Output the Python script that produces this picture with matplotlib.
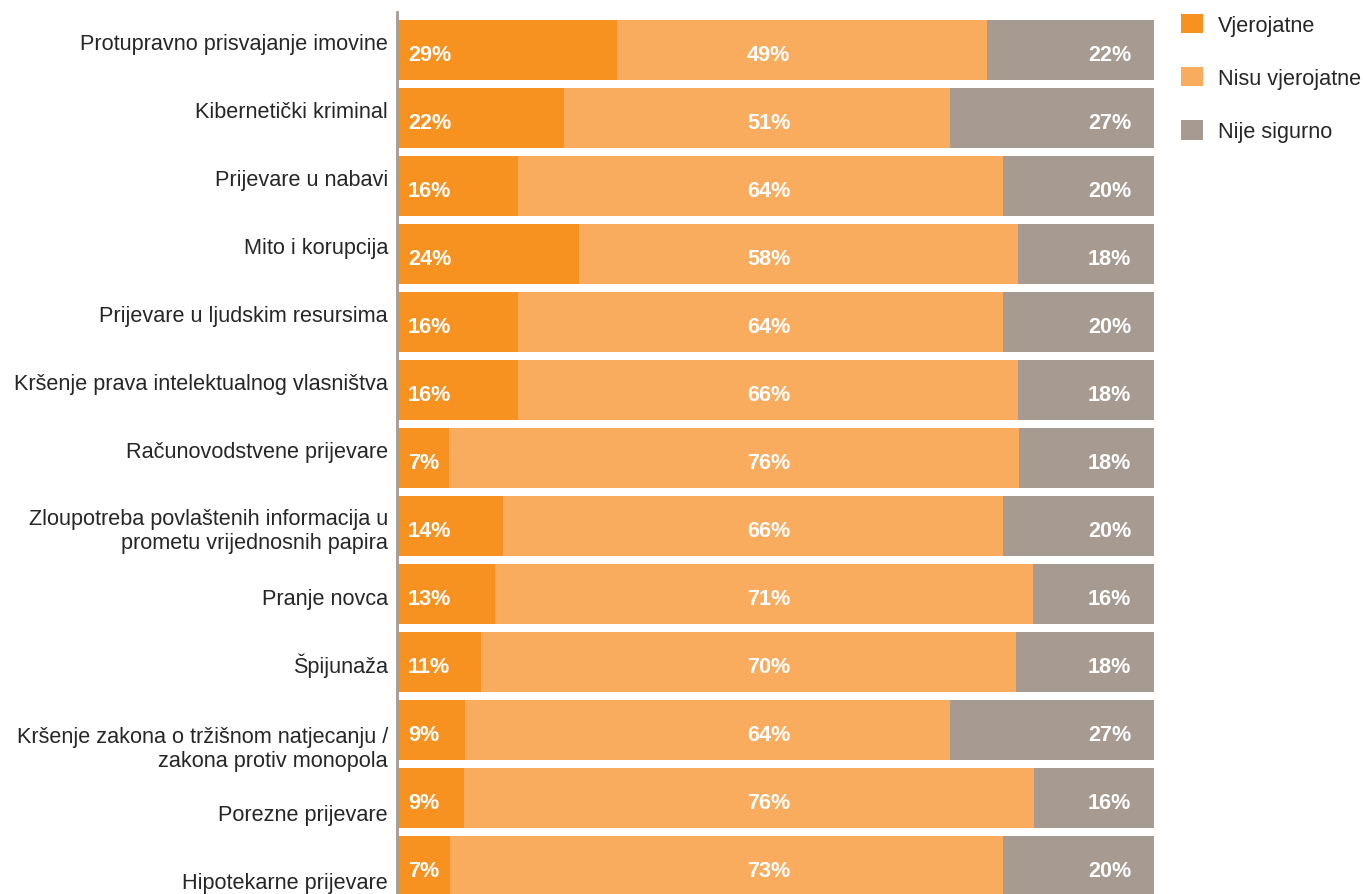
import numpy as np
import matplotlib
matplotlib.use("Agg")
from matplotlib import pyplot as plt

kategorije = [
    "Protupravno prisvajanje imovine",
    "Kibernetički kriminal",
    "Prijevare u nabavi",
    "Mito i korupcija",
    "Prijevare u ljudskim resursima",
    "Kršenje prava intelektualnog vlasništva",
    "Računovodstvene prijevare",
    "Zloupotreba povlaštenih informacija u\nprometu vrijednosnih papira",
    "Pranje novca",
    "Špijunaža",
    "Kršenje zakona o tržišnom natjecanju /\nzakona protiv monopola",
    "Porezne prijevare",
    "Hipotekarne prijevare",
]
vjerojatne = [29, 22, 16, 24, 16, 16, 7, 14, 13, 11, 9, 9, 7]
nisu_vjerojatne = [49, 51, 64, 58, 64, 66, 76, 66, 71, 70, 64, 76, 73]
nije_sigurno = [22, 27, 20, 18, 20, 18, 18, 20, 16, 18, 27, 16, 20]
serije = ["Vjerojatne", "Nisu vjerojatne", "Nije sigurno"]
boje = ["#F7911F", "#F9AC5E", "#A79A91"]

# pomak osnovne linije natpisa kategorija (u visinama retka), kao u originalu
pomak = [0, 0, 0, 0, 0, 0, 0, 0.34, 0.16, 0.16, 0.54, 0.33, 0.33]

plt.rcParams["font.family"] = ["Liberation Sans", "DejaVu Sans"]
fs = 15.6

v = np.array([vjerojatne, nisu_vjerojatne, nije_sigurno], dtype=float)
udio = v / v.sum(axis=0) * 100   # sirine segmenata, svaki red do 100%
y = np.arange(len(kategorije))

fig = plt.figure(figsize=(13.63, 8.95), dpi=100)
ax = fig.add_axes([397 / 1363, 0, 757 / 1363, 882 / 895])

lijevo = np.zeros(len(kategorije))
for i in range(3):
    ax.barh(y, udio[i], left=lijevo, height=0.88, color=boje[i], label=serije[i])
    lijevo += udio[i]

for k in range(len(kategorije)):
    yb = y[k] + 0.145
    ax.text(1.45, yb, f"{vjerojatne[k]}%", ha="left", va="baseline",
            color="white", fontsize=fs, fontweight="bold")
    ax.text(49.1, yb, f"{nisu_vjerojatne[k]}%", ha="center", va="baseline",
            color="white", fontsize=fs, fontweight="bold")
    ax.text(97.0, yb, f"{nije_sigurno[k]}%", ha="right", va="baseline",
            color="white", fontsize=fs, fontweight="bold")
    # natpis kategorije lijevo od osi
    ax.text(-9 / 757, y[k] - 0.015 + pomak[k], kategorije[k],
            transform=ax.get_yaxis_transform(), ha="right", va="baseline",
            multialignment="right", fontsize=fs, color="#262626")

ax.set_xlim(0, 100)
ax.set_ylim(12.41, -0.56)
ax.set_yticks([])
ax.set_xticks([])
for s in ["top", "right", "bottom"]:
    ax.spines[s].set_visible(False)
ax.spines["left"].set_color("#A59D96")
ax.spines["left"].set_linewidth(2)

fig.legend(loc="upper left", bbox_to_anchor=(1181 / 1363, 1 - 15 / 895),
           frameon=False, fontsize=fs, handlelength=1.0, handleheight=1.0,
           handletextpad=0.7, labelspacing=1.43, borderpad=0, borderaxespad=0,
           labelcolor="#262626")

plt.savefig("out.png", dpi=100)
